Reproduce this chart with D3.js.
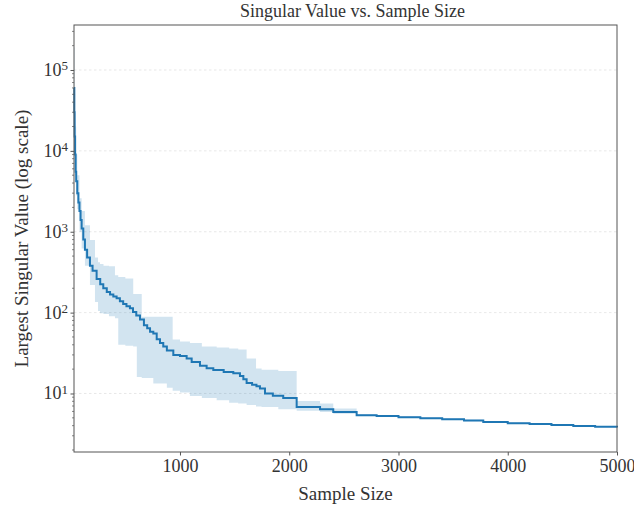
<!DOCTYPE html>
<html lang="en">
<meta charset="utf-8" />
<style>
    body { margin: 0; background: #fff; }
    text { font-family: "Liberation Serif", "Times New Roman", serif; fill: #333; }
    .grid line { stroke: #e2e2e2; stroke-width: 0.8px; stroke-dasharray: 2.5, 2.5; }
    .axis path, .axis line { stroke: #555; }
    .axis text { font-size: 18px; fill: #333; }
</style>
<body>
<svg width="634" height="512"></svg>
<script src="https://d3js.org/d3.v7.min.js"></script>
<script>
    // mean of the largest singular value per sample size
    var sizes = [30, 33, 36, 40, 45, 50, 60, 70, 80, 90, 100, 115, 130, 150, 176, 200, 237, 270, 298, 330,
        360, 390, 420, 450, 480, 510, 542, 570, 600, 634, 670, 700, 726, 756, 787, 817, 847, 880, 939, 1000,
        1061, 1107, 1183, 1244, 1305, 1400, 1488, 1549, 1580, 1610, 1660, 1700, 1732, 1778, 1850, 1945, 2068,
        2282, 2403, 2617, 2800, 3000, 3200, 3400, 3600, 3776, 4000, 4200, 4400, 4600, 4800, 5000]
    var meanValue = [60000, 30000, 15000, 9000, 5500, 4200, 3000, 2300, 1800, 1400, 1100, 800, 600, 480, 380,
        330, 260, 225, 200, 180, 168, 158, 150, 138, 128, 120, 113, 102, 92, 82, 70, 64, 58, 55, 47, 42, 38,
        34, 30, 29, 27, 24.5, 22, 20.5, 19.5, 18.5, 17.8, 16.5, 15, 13.5, 12.8, 12.3, 11.5, 10, 9.4, 8.8, 6.8,
        6.4, 5.9, 5.4, 5.25, 5.1, 4.95, 4.8, 4.62, 4.45, 4.3, 4.18, 4.07, 3.97, 3.88, 3.8]

    // spread band (min / max)
    var bandSizes = [30, 35, 40, 50, 60, 80, 100, 130, 176, 222, 250, 268, 300, 350, 405, 435, 500, 572, 605,
        650, 756, 880, 933, 1000, 1091, 1200, 1336, 1450, 1533, 1610, 1696, 1747, 1900, 2068, 2282, 2403,
        2617, 2800, 3000, 3200, 3400, 3600, 3776, 4000, 4200, 4400, 4600, 4800, 5000]
    var bandHigh = [190000, 50000, 20000, 9000, 5000, 2600, 1800, 1200, 790, 480, 420, 400, 380, 375, 290,
        275, 265, 170, 170, 89, 89, 89, 46.5, 44, 42, 38, 37, 36, 35, 27, 20.4, 19.7, 19, 8.1, 7.5, 6.5,
        5.55, 5.38, 5.22, 5.06, 4.9, 4.72, 4.53, 4.37, 4.24, 4.13, 4.03, 3.93, 3.85]
    var bandLow = [20000, 9000, 5000, 2800, 1900, 1000, 620, 380, 220, 135, 105, 98, 96, 90, 85, 40, 39,
        38, 16, 15.5, 13.3, 11.8, 10.8, 10.3, 9.3, 8.8, 8.26, 7.7, 7.5, 7.2, 6.9, 6.8, 6.4, 6.1, 5.9, 5.6,
        5.28, 5.13, 4.99, 4.85, 4.71, 4.54, 4.38, 4.24, 4.12, 4.02, 3.92, 3.84, 3.76]

    var xTicks = [1000, 2000, 3000, 4000, 5000]
    var yTicks = [10, 100, 1000, 10000, 100000]

    var svg = d3.select("svg")
    var plotLeft = 74, plotRight = 617, plotTop = 25, plotBottom = 452

    var x = d3.scaleLinear().domain([30, 5000]).range([plotLeft, plotRight])
    var y = d3.scaleLog().domain([1.89, 360000]).range([plotBottom, plotTop])

    // grid
    svg.append("g")
        .attr("class", "grid")
        .selectAll("line")
        .data(yTicks)
        .enter()
        .append("line")
        .attr("x1", plotLeft)
        .attr("x2", plotRight)
        .attr("y1", d => y(d))
        .attr("y2", d => y(d))

    var band = bandSizes.map((s, i) => ({ s: s, lo: bandLow[i], hi: bandHigh[i] }))
    var line = sizes.map((s, i) => ({ s: s, v: meanValue[i] }))

    svg.append("path")
        .datum(band)
        .attr("fill", "#1f77b4")
        .attr("fill-opacity", 0.2)
        .attr("d", d3.area()
            .curve(d3.curveStepAfter)
            .x(d => x(d.s))
            .y0(d => y(d.lo))
            .y1(d => y(d.hi)))

    svg.append("path")
        .datum(line)
        .attr("fill", "none")
        .attr("stroke", "#1f77b4")
        .attr("stroke-width", 2)
        .attr("d", d3.line()
            .curve(d3.curveStepAfter)
            .x(d => x(d.s))
            .y(d => y(d.v)))

    // x axis
    var gx = svg.append("g")
        .attr("class", "axis")
        .attr("transform", "translate(0," + plotBottom + ")")
        .call(d3.axisBottom(x).tickValues(xTicks).tickSize(3.5).tickPadding(4).tickFormat(d3.format("d")))
    gx.select(".domain").remove()

    // y axis minor ticks
    var minor = []
    for (var e = 0; e <= 5; e++) {
        for (var m = 2; m < 10; m++) {
            var v = m * Math.pow(10, e)
            if (v > 1.89 && v < 360000) minor.push(v)
        }
    }
    svg.append("g")
        .attr("class", "axis")
        .selectAll("line")
        .data(minor)
        .enter()
        .append("line")
        .attr("x1", plotLeft - 2)
        .attr("x2", plotLeft)
        .attr("y1", d => y(d))
        .attr("y2", d => y(d))
        .attr("stroke-width", 0.7)

    var gy = svg.append("g")
        .attr("class", "axis")
        .attr("transform", "translate(" + plotLeft + ",0)")
        .call(d3.axisLeft(y).tickValues(yTicks).tickSize(3.5).tickFormat(""))
    gy.select(".domain").remove()

    gy.selectAll(".tick")
        .append("text")
        .attr("x", -6)
        .attr("dy", "0.3em")
        .attr("text-anchor", "end")
        .each(function(d) {
            var t = d3.select(this)
            t.append("tspan").text("10")
            t.append("tspan").attr("dy", "-0.45em").attr("font-size", "13px").text(Math.round(Math.log10(d)))
        })

    // frame
    svg.append("rect")
        .attr("x", plotLeft)
        .attr("y", plotTop)
        .attr("width", plotRight - plotLeft)
        .attr("height", plotBottom - plotTop)
        .attr("fill", "none")
        .attr("stroke", "#555")
        .attr("stroke-width", 1)

    svg.append("text")
        .text("Singular Value vs. Sample Size")
        .attr("x", (plotLeft + plotRight) / 2 + 7)
        .attr("y", 17)
        .attr("text-anchor", "middle")
        .attr("font-size", 18)

    svg.append("text")
        .text("Sample Size")
        .attr("x", (plotLeft + plotRight) / 2)
        .attr("y", 500)
        .attr("text-anchor", "middle")
        .attr("font-size", 19)

    svg.append("text")
        .text("Largest Singular Value (log scale)")
        .attr("transform", "translate(28," + (plotTop + plotBottom) / 2 + ") rotate(-90)")
        .attr("text-anchor", "middle")
        .attr("font-size", 19)
</script>
</body>
</html>
